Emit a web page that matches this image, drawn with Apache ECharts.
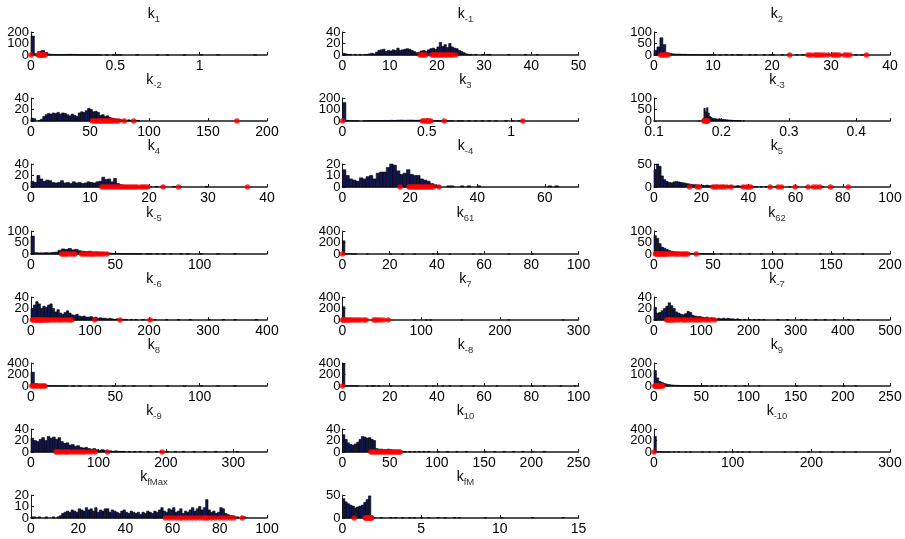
<!DOCTYPE html>
<html>
<head>
<meta charset="utf-8">
<title>k histograms</title>
<script src="https://cdn.jsdelivr.net/npm/echarts@6/dist/echarts.min.js"></script>
<style>
html, body { margin: 0; padding: 0; background: #fff; }
#chart { width: 905px; height: 539px; }
</style>
</head>
<body>
<div id="chart"></div>
<script>
// each panel: [first bin start, bin width], bin counts, red samples (drawn on y = 0),
// axis = [xMin, xMax, xStep, yMax, yStep]
const k1Bins = [0, 0.02];
const k1Counts = [165,12,30,40,22,8,5,4,3,3,5,6,5,5,3,2,2,1,1,2,1,
  0,1,0,1,2,1,0,0,0,0,1,0,0,0,0,0,1,0,0,1,0,0,0,0,1,0,0,0,0,1,0,0,0,0,1,0,0,0,0,0,0,0,0,0,0,1,0];
const k1Dots = [0, 0.042, 0.048, 0.054, 0.06, 0.066, 0.072, 0.078, 0.083];
const k1Axis = [0, 1.4, 0.5, 200, 100];

const km1Bins = [0, 0.5];
const km1Counts = [3,2,1,1,0,1,0,1,0,1, 1,2,3,2,5,8,9,10,6,8, 7,9,8,12,8,9,10,11,10,8,
  6,4,5,7,8,6,9,11,12,10, 14,22,15,18,13,20,14,12,11,8, 6,4,2,1,1,0,1,0,0,1, 0,1,1,
  0,0,0,0,0,0,0,1,0,0,0,0,0,0,1,0,0,0,0,1,0];
const km1Dots = [16.4, 16.8, 17.2, 17.6, 18.9, 19.3, 19.7, 20.1, 20.5, 20.8, 21.2, 21.6, 22.0, 22.4, 22.9, 23.3, 24.0];
const km1Axis = [0, 50, 10, 40, 20];

const k2Bins = [0, 0.5];
const k2Counts = [20,35,75,45,10,7,5,4,4,3, 3,2,2,2,2,1,1,1,1,1, 1,0,
  1,0,2,0,1,0,1,1,0,0, 1,0,1,0,0,1,0,1,1,0, 0,1,0,1,0,0,1,0,1,0, 1,1,0,0,1,0,1,0,0,1, 0,1,0,1,0,0,1,0,1,0, 0,0,0,0];
const k2Dots = [1.1, 1.4, 1.7, 2.0, 2.4, 23.0, 26.1, 26.6, 27.2, 27.6, 28.0, 28.4, 28.9, 29.5, 30.3, 30.6, 31.0, 31.4, 32.3, 32.7, 33.2, 36.0];
const k2Axis = [0, 40, 10, 100, 50];

const km2Bins = [0, 2];
const km2Counts = [5,4,0,1,3,8,11,13,12,14, 13,15,12,14,13,11,9,12,10,8, 14,16,15,18,22,20,16,17,15,10,
  11,8,9,6,5,4,3,3,2,2, 1,2,1,1,1,1];
const km2Dots = [52, 53.5, 55, 56, 57.5, 59, 60, 61.5, 63, 64.5, 66, 67, 68.5, 70, 72, 74, 79, 87, 174.5];
const km2Axis = [0, 200, 50, 40, 20];

const k3Bins = [0, 0.02];
const k3Counts = [160,5,2,1,1,0,1,2,3,3, 4,3,5,4,6,5,7,8,6,7, 8,6,7,5,4,5,3,2,3,1,
  2,1,1,0,1,1,0,1,0,1, 0,1,0,1,0,1,0,0,1,0, 1,0,1];
const k3Dots = [0, 0.474, 0.484, 0.494, 0.504, 0.514, 0.524, 0.604, 1.07];
const k3Axis = [0, 1.4, 0.5, 200, 100];

const km3Bins = [0.166, 0.002];
const km3Counts = [1,0,1,10,55,40,58,35,20,15, 12,10,10,9,8,10,8,7,6,6, 5,5,4,4,3,3,2,2,2,1, 1,1,0,1,0];
const km3Dots = [0.174, 0.1755, 0.177, 0.178, 0.179, 0.180];
const km3Axis = [0.1, 0.45, 0.1, 100, 50];

const k4Bins = [0, 0.5];
const k4Counts = [10,8,20,14,10,12,11,8,7,8, 11,7,8,6,9,7,8,6,7,9, 8,7,9,10,17,13,14,9,15,6,
  4,3,2,1,1,1,1, 0,1,0,1,0,1,0,1,0,0,0,1,0,1,0,0,0,0,0,0,0,0,1];
const k4Dots = [12.0, 12.4, 12.8, 13.2, 13.6, 14.0, 14.4, 14.8, 15.2, 15.6, 16.0, 16.4, 16.8, 17.2, 17.6, 18.0, 18.6, 19.0, 19.4, 19.8, 22.4, 25.0, 36.7];
const k4Axis = [0, 40, 10, 40, 20];

const km4Bins = [0, 1];
const km4Counts = [15,10,7,6,5,8,7,9,10,7, 12,13,13,17,20,19,14,11,12,15, 11,10,10,7,6,5,3,2,1,
  0,0,1,1,0,0,1,0,1,0,0,1, 0,0,0,0,0,0,0,0,0,0,0,0,0,0,0,0,0,0,0,0, 1,0,1];
const km4Dots = [17.1, 19.7, 20.2, 20.8, 21.3, 21.8, 22.2, 22.7, 23.2, 23.7, 24.2, 24.7, 25.3, 25.8, 26.4, 27.0, 28.6];
const km4Axis = [0, 70, 20, 20, 10];

const k5Bins = [0, 1];
const k5Counts = [38,50,45,24,16,12,10,9,11,12, 11,10,9,8,7,6,5,5,4,4, 4,3,4,3,3,3,4,3,3,4,
  3,2,3,2,2,3,2,2,2,1, 2,1,1,1,
  0,1,0,1,0,1,0,1,0,0,1,0,0,1,0,0,1,0,0,0,1,0,0,0,0,0,0,1,0,0,0,1];
const k5Dots = [15.1, 18.3, 19.2, 25.0, 26.0, 27.0, 28.2, 29.3, 30.8, 32.7, 37.8, 39.2, 40.0, 41.0, 49.2, 52.6, 54.0, 59.8, 65.3, 67.5, 68.8, 70.3, 74.8, 82.3];
const k5Axis = [0, 100, 20, 50, 50];

const km5Bins = [0, 2];
const km5Counts = [78,6,5,5,6,5,7,8,16,22, 20,24,18,20,14,12,10,12,8,9, 7,6,5,4,3,3,2,2,1,2, 1,1,1,
  0,1,1,0,1,0,1,0,1,0,0,1,0,1,0,0,0,1,0,0,0,0,1,0,0,0,0,1];
const km5Dots = [18.2, 19.0, 20.0, 21.0, 22.0, 23.6, 25.0, 26.1, 30.0, 31.0, 32.5, 33.5, 35.0, 36.0, 37.0, 38.5, 40.0, 41.5, 43.0, 45.0];
const km5Axis = [0, 140, 50, 100, 50];

const k61Bins = [0, 1];
const k61Counts = [230,5,3,2,1,1,0,0,0,0, 1,0,0,0,0,0,0,0,0,0, 1,0,0,0,0,1,0,0,0,0, 1,0,0,0,0,0,0,0,1,0,
  1,0,0,0,0,1,0,0,0,0, 0,0,0,0,0,1,0,0,1,0, 0,0,0,0,0,0,0,0,0,0, 1,0,0,0,0,0,0,0,0,0, 1];
const k61Dots = [0];
const k61Axis = [0, 100, 20, 400, 200];

const k62Bins = [0, 2];
const k62Counts = [80,68,45,30,25,20,15,12,10,8, 7,6,5,5,4,4,3,3,2,2, 2,1,1,1,1,1,
  0,0,1,0,0,0,1,0,0,0, 1,0,0,0,1,0,0,0,0,1, 0,0,0,0,1,0,0,0,0,1, 0,0,0,0,1,0,0,0,0,0,
  0,0,0,0,1,0,0,0,0,1, 0,0,0,0,1,0,0,0,0,0, 0,0,1];
const k62Dots = [1.2, 2, 3, 4, 5, 6, 7, 8, 9, 10, 11, 13, 15, 17.5, 19, 20.5, 22, 24, 25.5, 27, 28.5, 35.8];
const k62Axis = [0, 200, 50, 100, 50];

const km6Bins = [0, 4];
const km6Counts = [20,26,32,28,20,24,22,26,28,20, 14,18,12,10,13,16,12,9,8,10, 7,6,7,5,5,6,4,5,3,4,
  3,3,2,3,2,1,2,1,1,1, 1,0,1,0,1,
  0,0,1,0,0,0,0,1,0,0, 0,0,1,0,0,0,0,1,0,0, 0,0,1,0,0,0,0,0,0,0, 1,0,0,0,0,0,1,0,0,0, 0,1,0,0,0,0,0,0,0,0,1];
const km6Dots = [2.5, 5, 7, 9, 11, 13, 15, 17, 19, 22, 25, 28, 31, 35, 39, 43, 48, 52, 57, 62, 66, 69, 108, 151, 202];
const km6Axis = [0, 400, 100, 40, 20];

const k7Bins = [0, 3];
const k7Counts = [230,10,5,3,2,2,1,1,1,0, 0,0,0,0,0,0,0,0,0,0, 0,0,0,0,0,0,0,0,0,0,
  1,0,0,0,0,1,0,1,0,0, 0,0,0,0,0,0,0,0,0,0, 1,0,0,0,0,0,0,0,0,0, 0,0,0,0,0,0,0,0,0,0,
  1,0,0,0,0,0,0,0,0,0, 0,0,0,0,0,0,0,0,0,0, 0,0,0,1];
const k7Dots = [0, 1.5, 3, 5, 7, 9, 11, 14, 17, 20, 23, 27, 30, 40, 42, 45, 48, 52, 58];
const k7Axis = [0, 300, 100, 400, 200];

const km7Bins = [0, 5];
const km7Counts = [22,12,13,16,20,24,30,25,20,14, 12,10,9,11,15,13,8,7,6,6, 5,4,5,3,4,3,2,3,2,3,
  2,3,2,2,1,2,1,0,1,0, 1,0,1,0,1,0,1,
  0,0,0,0,0,1,0,0,0,1, 0,0,0,0,0,1,0,1,0,0, 0,1,0,0,0,1,0,0,0,1, 0,0,0,0,0,1,0,0,0,1];
const km7Dots = [27, 30, 33, 36, 40, 44, 50, 55, 62, 66, 72, 78, 84, 90, 95, 100, 108, 114, 120, 128];
const km7Axis = [0, 500, 100, 40, 20];

const k8Bins = [0, 2];
const k8Counts = [240,40,15,8,5,3,2,2,1,1, 1,0,1,0,1,0,0,1,0,0, 1,0,0,0,1,0,0,1,0,0,
  1,0,0,0,0,1,0,0,0,0, 1,0,0,0,0,1,0,0,0,0, 1,0,0,0,0,1,0,0,0,0,1];
const k8Dots = [0.5, 1.5, 2.5, 3.5, 4.5, 5.5, 6.5, 7.5, 8.3];
const k8Axis = [0, 140, 50, 400, 200];

const km8Bins = [0, 1];
const km8Counts = [385,5,3,2,2,1,1,0,0,0, 1,0,1,1,0,1,0,0,0,0, 1,0,0,0,0,1,0,1,0,0,
  0,0,0,0,0,1,0,0,1,0, 0,0,1,0,0,1,0,0,0,0, 1,0,0,0,0,1,0,0,0,0, 0,0,0,0,0,1,0,0,0,0,
  0,0,0,0,0,1,0,0,0,0, 1,0,0,0,0,1,0,0,0,0, 0,0,1,0,0,0,0,0,1];
const km8Dots = [0];
const km8Axis = [0, 100, 20, 400, 200];

const k9Bins = [0, 2.5];
const k9Counts = [135,70,40,30,22,16,12,9,7,6, 5,4,3,3,2,2,2,1,1,1, 2,1,1,0,1,
  0,1,0,1,0,1,0,0,0,1, 0,0,0,1,0,0,0,0,0,1, 0,0,0,0,0,0,0,0,0,0,
  0,0,0,0,0,1,0,0,0,0, 0,0,0,0,0,1,0,0,0,0, 0,0,0,0,0,1,0,0,0,0,1];
const k9Dots = [0.8, 1.5, 2.3, 3, 4, 5, 6, 7, 8, 9.5];
const k9Axis = [0, 250, 50, 200, 100];

const km9Bins = [0, 4];
const km9Counts = [24,20,18,22,25,20,27,24,26,22, 25,18,15,16,12,13,10,11,8,7, 8,6,5,6,4,3,4,3,2,2,
  1,2,1,1,1,0,1,
  0,1,0,1,0,0,1,0,0,1, 0,1,0,1,0,0,1,0,0,1, 0,0,0,1,0,0,0,1,0,0, 0,1,0,0,0,1,0,0,0,1];
const km9Dots = [37, 40, 43, 46, 50, 53, 56, 60, 64, 68, 72, 76, 80, 85, 90, 95, 113.5, 194.5];
const km9Axis = [0, 350, 100, 40, 20];

const k10Bins = [0, 2.5];
const k10Counts = [30,22,16,13,12,14,17,22,27,26, 24,25,22,20,6,5,5,4,4,5, 4,3,3,2,2,1,1,
  0,1,0,1,0,1,0,1,0,1, 0,0,0,1,0,0,0,1,0,0, 0,1,0,0,0,1,0,0,0,0, 0,0,0,1,0,0,0,1,0,0,
  0,1,0,0,0,1,0,0,0,1, 0,0,0,1,0,0,0,0,1];
const k10Dots = [30, 32, 34, 36, 38, 40, 42, 44, 46, 48, 50, 52, 54, 56, 58, 60, 61];
const k10Axis = [0, 250, 50, 40, 20];

const km10Bins = [0, 3];
const km10Counts = [270,8,4,2,1,1,1,0,1,0, 1,0,0,1,0,1,0,0,0,0, 1,0,0,1,0,0,0,1,0,0,
  1,0,0,1,0,1,0,1,0,0, 1,0,0,0,0,1,0,0,0,0, 0,0,0,0,0,1,0,0,0,0, 1,0,0,0,0,1,0,0,0,0,
  1,0,0,0,0,1,0,0,0,0, 1,0,0,0,0,1];
const km10Dots = [0];
const km10Axis = [0, 300, 100, 400, 200];

const kfMaxBins = [0, 1];
const kfMaxCounts = [1,1,0,1,0,0,1,0,0,1, 0,1,2,4,5,6,5,7,6,5, 8,7,6,9,7,8,6,9,5,7,
  6,8,8,5,7,6,5,4,6,7, 5,4,6,5,4,5,3,5,4,6, 5,4,6,5,7,9,6,5,8,7, 9,5,6,8,4,6,5,7,9,6,
  8,10,7,9,16,7,5,6,4,5, 9,8,4,3,2,2,1,1,0,1,1];
const kfMaxDots = [57, 58.5, 60, 61.5, 63, 64, 65.5, 67, 68.5, 70, 71.5, 73, 74, 75, 76.5, 78, 80, 81.5, 83, 84.5, 86, 89.5];
const kfMaxAxis = [0, 100, 20, 20, 10];

const kfMBins = [0, 0.15];
const kfMCounts = [42,35,31,28,26,22,24,26,28,34,40,48,5,1,
  0,0,1,0,0,0,1,0,1,0, 0,1,0,0,1,0,1,0,0,1, 0,0,1,0,0,0,1,0,0,1, 0,0,0,1,0,1,0,0,0,0,
  0,0,0,0,0,0,1,0,0,0, 0,0,0,1,0,0,0,0,0,0, 0,0,0,0,0,0,1,0,0,0, 0,0,0,0,0,0,0,0,0,1];
const kfMDots = [0.74, 1.45, 1.5, 1.55, 1.6, 1.65, 1.7, 1.75, 1.8, 1.85];
const kfMAxis = [0, 15, 5, 50, 50];

// subscript, bins, counts, samples, axis (row by row, three per row)
const panels = [
  ['1', k1Bins, k1Counts, k1Dots, k1Axis],
  ['-1', km1Bins, km1Counts, km1Dots, km1Axis],
  ['2', k2Bins, k2Counts, k2Dots, k2Axis],
  ['-2', km2Bins, km2Counts, km2Dots, km2Axis],
  ['3', k3Bins, k3Counts, k3Dots, k3Axis],
  ['-3', km3Bins, km3Counts, km3Dots, km3Axis],
  ['4', k4Bins, k4Counts, k4Dots, k4Axis],
  ['-4', km4Bins, km4Counts, km4Dots, km4Axis],
  ['5', k5Bins, k5Counts, k5Dots, k5Axis],
  ['-5', km5Bins, km5Counts, km5Dots, km5Axis],
  ['61', k61Bins, k61Counts, k61Dots, k61Axis],
  ['62', k62Bins, k62Counts, k62Dots, k62Axis],
  ['-6', km6Bins, km6Counts, km6Dots, km6Axis],
  ['7', k7Bins, k7Counts, k7Dots, k7Axis],
  ['-7', km7Bins, km7Counts, km7Dots, km7Axis],
  ['8', k8Bins, k8Counts, k8Dots, k8Axis],
  ['-8', km8Bins, km8Counts, km8Dots, km8Axis],
  ['9', k9Bins, k9Counts, k9Dots, k9Axis],
  ['-9', km9Bins, km9Counts, km9Dots, km9Axis],
  ['10', k10Bins, k10Counts, k10Dots, k10Axis],
  ['-10', km10Bins, km10Counts, km10Dots, km10Axis],
  ['fMax', kfMaxBins, kfMaxCounts, kfMaxDots, kfMaxAxis],
  ['fM', kfMBins, kfMCounts, kfMDots, kfMAxis]
];

const colLeft = [31, 342.5, 654];
const rowBase = [55, 121, 187, 254, 320, 386, 452, 518];
const plotW = 236, plotH = 23;
const font = '"Liberation Sans", Arial, sans-serif';

function multipleLabel(step) {
  return function (v) {
    const r = v / step;
    if (Math.abs(r - Math.round(r)) > 1e-6) return '';
    return String(parseFloat(v.toFixed(6)));
  };
}

// inner y tick values (between 0 and max)
function innerValues(max, step) {
  const out = [];
  for (let v = step; v < max - 1e-9; v += step) out.push(v);
  return out;
}

function renderBin(params, api) {
  const a = api.coord([api.value(0), 0]);
  const b = api.coord([api.value(1), api.value(2)]);
  return {
    type: 'rect',
    shape: { x: a[0], y: b[1], width: b[0] - a[0], height: a[1] - b[1] },
    style: { fill: '#121752', stroke: '#000', lineWidth: 0.6 }
  };
}

const yLabelStyle = { fontSize: 13, color: '#000', fontFamily: font, margin: 2, hideOverlap: false };

const grid = [], xAxis = [], yAxis = [], series = [], title = [];
panels.forEach(function (p, i) {
  const sub = p[0], bins = p[1], counts = p[2], dots = p[3], ax = p[4];
  const left = colLeft[i % 3];
  const base = rowBase[Math.floor(i / 3)];
  const g = 2 * i;
  const rect = { left: left, top: base - plotH, width: plotW, height: plotH };
  // main plot grid, plus an overlay grid that only carries the inner y labels
  grid.push(Object.assign({}, rect), Object.assign({}, rect));
  title.push({
    text: '{k|k}{s|' + sub + '}',
    left: left + plotW / 2,
    top: base - 56,
    textAlign: 'center',
    textStyle: {
      fontFamily: font,
      fontWeight: 'normal',
      rich: {
        k: { fontSize: 14, color: '#000', fontFamily: font, fontWeight: 'normal' },
        s: { fontSize: 9.5, color: '#333', fontFamily: font, fontWeight: 'normal', padding: [10, 0, 0, 0] }
      }
    }
  });
  xAxis.push({
    type: 'value', gridIndex: g, min: ax[0], max: ax[1], interval: ax[2],
    axisLine: { onZero: false, lineStyle: { color: '#1a1a1a', width: 1.5 } },
    axisTick: { inside: true, length: 3, lineStyle: { color: '#1a1a1a' } },
    axisLabel: {
      fontSize: 14, color: '#000', fontFamily: font, margin: 4,
      showMinLabel: true, showMaxLabel: true, hideOverlap: false,
      formatter: multipleLabel(ax[2])
    },
    splitLine: { show: false }
  }, {
    type: 'value', gridIndex: g + 1, min: ax[0], max: ax[1], show: false
  });
  const inner = innerValues(ax[3], ax[4]);
  yAxis.push({
    type: 'value', gridIndex: g, min: 0, max: ax[3], interval: ax[4],
    axisLine: { show: true, lineStyle: { color: '#1a1a1a', width: 1 } },
    axisTick: { show: true, inside: true, length: 3, lineStyle: { color: '#1a1a1a' } },
    axisLabel: Object.assign({ customValues: [0, ax[3]], showMinLabel: true, showMaxLabel: true }, yLabelStyle),
    splitLine: { show: false }
  }, {
    type: 'value', gridIndex: g + 1, min: 0, max: ax[3], interval: ax[4],
    axisLine: { show: false }, axisTick: { show: false }, splitLine: { show: false },
    axisLabel: Object.assign({ show: inner.length > 0, customValues: inner.length ? inner : [ax[4]] }, yLabelStyle)
  });
  const binData = [];
  counts.forEach(function (c, j) {
    if (c > 0) binData.push([bins[0] + j * bins[1], bins[0] + (j + 1) * bins[1], c]);
  });
  series.push({
    type: 'custom', xAxisIndex: g, yAxisIndex: g,
    renderItem: renderBin, encode: { x: [0, 1], y: 2 },
    data: binData, z: 3
  });
  series.push({
    type: 'scatter', xAxisIndex: g, yAxisIndex: g,
    symbol: 'circle', symbolSize: 5.5, clip: false,
    itemStyle: { color: '#ff0000' },
    data: dots.map(function (v) { return [v, 0]; }), z: 5
  });
});

const chart = echarts.init(document.getElementById('chart'), null, { renderer: 'canvas' });
chart.setOption({
  backgroundColor: '#fff',
  animation: false,
  title: title,
  grid: grid,
  xAxis: xAxis,
  yAxis: yAxis,
  series: series
});
</script>
</body>
</html>
